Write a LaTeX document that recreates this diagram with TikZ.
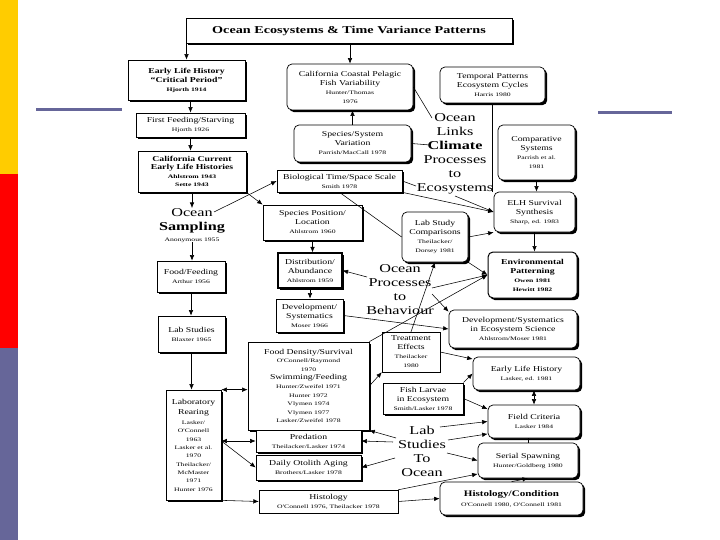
\documentclass[tikz,border=0pt]{standalone}
\usepackage{fontspec}
\setmainfont{Liberation Serif}[FakeStretch=1.3]
\newfontfamily\bigf{Liberation Serif}[FakeStretch=1.35]
\newfontfamily\auf{Liberation Serif}[FakeStretch=1.45]
\usetikzlibrary{arrows.meta,shadows}
\definecolor{bary}{HTML}{FFCC00}
\definecolor{barr}{HTML}{FF0000}
\definecolor{bars}{HTML}{666699}
\newcommand{\au}[1]{{\auf\fontsize{5.3}{6.5}\selectfont #1}}
\begin{document}
\begin{tikzpicture}[x=1pt,y=-1pt,
  bx/.style={draw=black, line width=0.7pt, fill=white, align=center, inner sep=1pt, font=\fontsize{7.5}{9}\selectfont},
  sz/.style 2 args={minimum width=#1pt, minimum height=#2pt},
  sh/.style={drop shadow={shadow xshift=2.2pt, shadow yshift=-2.2pt, fill=black, opacity=1}},
  rb/.style={rounded corners=5pt},
  bf/.style={font=\bfseries\fontsize{7.5}{9}\selectfont},
  lbl/.style={align=center, font=\bigf\fontsize{12}{14}\selectfont, inner sep=0pt},
  arr/.style={-{Latex[length=5.5pt,width=4.5pt]}, line width=0.55pt},
  ln/.style={line width=0.55pt},
  darr/.style={{Latex[length=5.5pt,width=4.5pt]}-{Latex[length=5.5pt,width=4.5pt]}, line width=0.55pt}
]
\useasboundingbox (0,0) rectangle (720,540);
% slide decorations
\fill[bary] (0,0) rectangle (18,174);
\fill[barr] (0,174) rectangle (18,348);
\fill[bars] (0,348) rectangle (18,540);
\draw[bars, line width=3pt] (36,110) -- (122,110);
\draw[bars, line width=3pt] (598,113) -- (672,113);

% boxes
\node[bx,sh,sz={326}{25},font=\bigf\bfseries\fontsize{10.5}{12}\selectfont] (title) at (349,30.5) {Ocean Ecosystems \& Time Variance Patterns};
\node[bx,sh,sz={117}{40},bf] (elh1) at (186.5,80) {Early Life History\\``Critical Period''\\\au{Hjorth 1914}};
\node[bx,rb,sh,sz={126}{46}] (ccp) at (350,87) {California Coastal Pelagic\\Fish Variability\\\au{Hunter/Thomas}\\\au{1976}};
\node[bx,rb,sh,sz={105}{36}] (temp) at (492.5,85) {Temporal Patterns\\Ecosystem Cycles\\\au{Harris 1980}};
\node[bx,sh,sz={109}{24}] (ffs) at (190.5,125) {First Feeding/Starving\\\au{Hjorth 1926}};
\node[bx,sh,sz={108}{41},font=\bfseries\fontsize{7.5}{8.5}\selectfont] (ccelh) at (192,171.5) {California Current\\Early Life Histories\\\au{Ahlstrom 1943}\\\au{Sette 1943}};
\node[bx,rb,sh,sz={117}{37}] (ssv) at (352.5,143.5) {Species/System\\Variation\\\au{Parrish/MacCall 1978}};
\node[bx,rb,sh,sz={77}{55}] (comp) at (536.5,152.5) {Comparative\\Systems\\\au{Parrish et al.}\\\au{1981}};
\node[bx,sh,sz={125}{22}] (bts) at (339.5,181) {Biological Time/Space Scale\\\au{Smith 1978}};
\node[bx,rb,sh,sz={81}{40}] (elhs) at (534.5,212) {ELH Survival\\Synthesis\\\au{Sharp, ed. 1983}};
\node[bx,sh,sz={99}{35}] (spl) at (312.5,222.5) {Species Position/\\Location\\\au{Ahlstrom 1960}};
\node[bx,rb,sh,sz={66}{50}] (lsc) at (435,237) {Lab Study\\Comparisons\\\au{Theilacker/}\\\au{Dorsey 1981}};
\node[bx,rb,sh,sz={89}{46},bf,line width=1pt] (env) at (532.5,275) {Environmental\\Patterning\\\au{\bfseries Owen 1981}\\\au{\bfseries Hewitt 1982}};
\node[bx,sh,sz={68}{31}] (food) at (191,276.5) {Food/Feeding\\\au{Arthur 1956}};
\node[bx,sh,sz={64}{35},line width=1.2pt] (dist) at (310,270.5) {Distribution/\\Abundance\\\au{Ahlstrom 1959}};
\node[bx,sh,sz={67}{33}] (devs) at (309.5,315.5) {Development/\\Systematics\\\au{Moser 1966}};
\node[bx,rb,sh,sz={128}{38}] (dses) at (513,329) {Development/Systematics\\in Ecosystem Science\\\au{Ahlstrom/Moser 1981}};
\node[bx,sh,sz={67}{36}] (labst) at (191.5,334) {Lab Studies\\\au{Blaxter 1965}};
\node[bx,sh,sz={121}{88},font=\fontsize{7.5}{8.6}\selectfont] (fds) at (308.5,386) {Food Density/Survival\\\au{O'Connell/Raymond}\\\au{1970}\\Swimming/Feeding\\\au{Hunter/Zweifel 1971}\\\au{Hunter 1972}\\\au{Vlymen 1974}\\\au{Vlymen 1977}\\\au{Lasker/Zweifel 1978}};
\node[bx,sz={58}{40},line width=0.4pt] (treat) at (411,352) {Treatment\\Effects\\\au{Theilacker}\\\au{1980}};
\node[bx,rb,sh,sz={107}{33}] (elh2) at (526.5,373.5) {Early Life History\\\au{Lasker, ed. 1981}};
\node[bx,sh,sz={80}{31},line width=1pt] (fish) at (423,398.5) {Fish Larvae\\in Ecosystem\\\au{Smith/Lasker 1978}};
\node[bx,rb,sh,sz={92}{33}] (field) at (534,421.5) {Field Criteria\\\au{Lasker 1984}};
\node[bx,sh,sz={55}{110},font=\fontsize{7.5}{8.3}\selectfont] (rear) at (193.5,445) {Laboratory\\[2pt]Rearing\\[2pt]\au{Lasker/}\\\au{O'Connell}\\\au{1963}\\\au{Lasker et al.}\\\au{1970}\\\au{Theilacker/}\\\au{McMaster}\\\au{1971}\\\au{Hunter 1976}};
\node[bx,sh,sz={105}{22}] (pred) at (308.5,441) {Predation\\\au{Theilacker/Lasker 1974}};
\node[bx,sh,sz={105}{25}] (daily) at (308.5,467.5) {Daily Otolith Aging\\\au{Brothers/Lasker 1978}};
\node[bx,rb,sh,sz={100}{35}] (serial) at (528,460.5) {Serial Spawning\\\au{Hunter/Goldberg 1980}};
\node[bx,sz={139}{23},line width=0.4pt] (hist) at (328.5,501.5) {Histology\\\au{O'Connell 1976, Theilacker 1978}};
\node[bx,rb,sh,sz={143}{33},font=\bfseries\fontsize{8.5}{10}\selectfont] (histc) at (511.5,498.5) {Histology/Condition\\\au{\mdseries O'Connell 1980, O'Connell 1981}};

% free-standing labels
\node[lbl,anchor=north] (olink) at (455,113) {Ocean\\Links\\\textbf{Climate}\\Processes\\to\\Ecosystems};
\node[lbl,anchor=north] (osamp) at (192,208) {Ocean\\\textbf{Sampling}\\[-3pt]\au{Anonymous 1955}};
\node[lbl] (oproc) at (400,290) {Ocean\\Processes\\to\\Behaviour};
\node[lbl] (lsto) at (422,451) {Lab\\Studies\\To\\Ocean};

% connector ends at label text
\coordinate (c1) at (430,145);
\coordinate (c2) at (432,118);
\coordinate (c3) at (416,186);
\coordinate (c4) at (455,196);
\coordinate (c5) at (214,212);
\coordinate (c6) at (432,288);
\coordinate (c7) at (367,277);
\coordinate (c8) at (432,294);
\coordinate (c9) at (440,427);
\coordinate (c10) at (448,440);
\coordinate (c11) at (447,453);
\coordinate (c12) at (396,438);
\coordinate (c13) at (393,442);
\coordinate (c14) at (395,458);

% connectors
\draw[arr] (title.south -| elh1.north) -- (elh1.north);
\draw[arr] (title.south -| ccp.north) -- (ccp.north);
\draw[arr] (elh1.south -| ffs.north) -- (ffs.north);
\draw[arr] (ffs.south) -- (ffs.south |- ccelh.north);
\draw[arr] (ccelh.south) -- (osamp.north);
\draw[arr] (osamp.south) -- (osamp.south |- food.north);
\draw[arr] (food.south) -- (food.south |- labst.north);
\draw[arr] (labst.south) -- (labst.south |- rear.north);
\draw[arr] (ssv.north) -- (ssv.north |- ccp.south);
\draw[ln] (ssv.east) -- (c1);
\draw[ln] (ccp.east) -- (c2);
\draw[ln] (temp.south) -- (temp.south |- elhs.north);
\draw[arr] (comp.south) -- (comp.south |- elhs.north);
\draw[ln] (bts.east) -- (c3);
\draw[arr] (bts.south east) -- (elhs.west);
\draw[arr] (c4) -- (elhs.west);
\draw[arr] (c5) -- (bts.west);
\draw[arr] (ccelh.south east) -- (spl.north west);
\draw[ln] (bts.south) -- (lsc.west);
\draw[arr] (spl.south) -- (spl.south |- dist.north);
\draw[arr] (dist.south) -- (dist.south |- devs.north);
\draw[arr] (lsc.east) -- (elhs.south west);
\draw[arr] (elhs.south) -- (elhs.south |- env.north);
\draw[arr] (lsc.south east) -- (env.west);
\draw[arr] (c6) -- (env.west);
\draw[arr] (c7) -- (dist.east);
\draw[arr] (c8) -- (dses.165);
\draw[arr] (devs.east) -- (dses.west);
\draw[arr] (fds.north east) -- (env.west);
\draw[arr] (treat.north) -- (lsc.south);
\draw[arr] (treat.east) -- (elh2.165);
\draw[arr] (fish.north east) -- (elh2.west);
\draw[arr] (fish.east) -- (field.165);
\draw[darr] (elh2.south -| field.north) -- (field.north);
\draw[ln] (field.south -| serial.north) -- (serial.north);
\draw[arr] (c9) -- (field.west);
\draw[arr] (c10) -- (field.195);
\draw[arr] (c11) -- (serial.west);
\draw[arr] (histc.north) -- (serial.south);
\draw[arr] (hist.north east) -- (serial.195);
\draw[arr] (hist.east) -- (histc.west);
\draw[arr] (rear.south east) -- (hist.west);
\draw[darr] (rear.north east) -- (rear.north east -| fds.west);
\draw[darr] (rear.east |- pred.west) -- (pred.west);
\draw[arr] (rear.east |- pred.west) -- (daily.west);
\draw[arr] (fds.east) -- (treat.south west);
\draw[arr] (c12) -- (fds.south east);
\draw[arr] (c13) -- (pred.east);
\draw[arr] (c14) -- (daily.east);
\end{tikzpicture}
\end{document}
